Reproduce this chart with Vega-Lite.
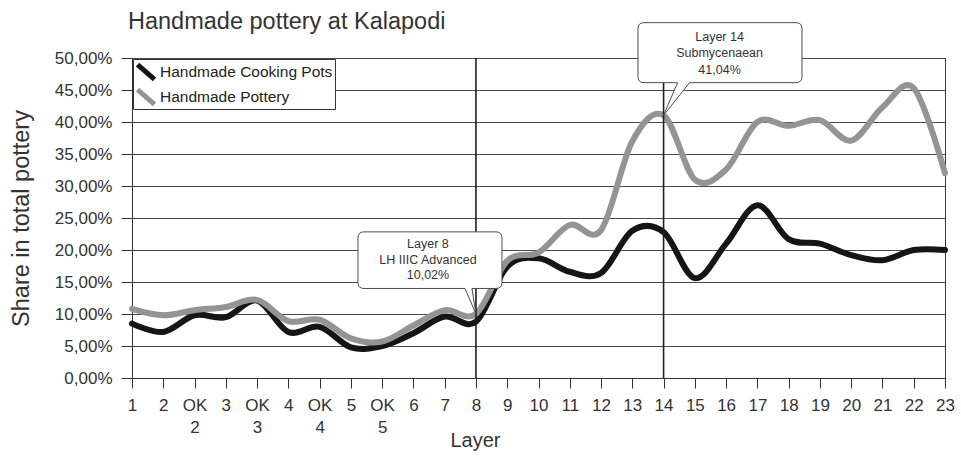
{
  "$schema": "https://vega.github.io/schema/vega-lite/v6.json",
  "width": 813,
  "height": 320,
  "autosize": {"type": "none"},
  "padding": {"left": 132, "top": 58, "right": 16, "bottom": 79},
  "background": "white",
  "config": {
    "font": "Liberation Sans",
    "view": {"stroke": "#3a3a3a", "strokeWidth": 1}
  },
  "title": {
    "text": "Handmade pottery at Kalapodi",
    "anchor": "start",
    "frame": "group",
    "fontSize": 23.5,
    "fontWeight": "normal",
    "color": "#333333",
    "dx": -4,
    "dy": 27,
    "offset": 14
  },
  "datasets": {
    "pottery": [
      {"layer": "1", "Handmade Cooking Pots": 8.5, "Handmade Pottery": 10.8},
      {"layer": "2", "Handmade Cooking Pots": 7.2, "Handmade Pottery": 9.8},
      {"layer": "OK 2", "Handmade Cooking Pots": 9.8, "Handmade Pottery": 10.6},
      {"layer": "3", "Handmade Cooking Pots": 9.5, "Handmade Pottery": 11.1},
      {"layer": "OK 3", "Handmade Cooking Pots": 12.1, "Handmade Pottery": 12.2},
      {"layer": "4", "Handmade Cooking Pots": 7.2, "Handmade Pottery": 8.9},
      {"layer": "OK 4", "Handmade Cooking Pots": 8.0, "Handmade Pottery": 9.1},
      {"layer": "5", "Handmade Cooking Pots": 4.8, "Handmade Pottery": 6.2},
      {"layer": "OK 5", "Handmade Cooking Pots": 5.0, "Handmade Pottery": 5.7},
      {"layer": "6", "Handmade Cooking Pots": 7.0, "Handmade Pottery": 8.2},
      {"layer": "7", "Handmade Cooking Pots": 9.6, "Handmade Pottery": 10.6},
      {"layer": "8", "Handmade Cooking Pots": 8.8, "Handmade Pottery": 10.02},
      {"layer": "9", "Handmade Cooking Pots": 17.4, "Handmade Pottery": 18.3},
      {"layer": "10", "Handmade Cooking Pots": 18.7, "Handmade Pottery": 19.6},
      {"layer": "11", "Handmade Cooking Pots": 16.6, "Handmade Pottery": 23.9},
      {"layer": "12", "Handmade Cooking Pots": 16.4, "Handmade Pottery": 23.1},
      {"layer": "13", "Handmade Cooking Pots": 23.0, "Handmade Pottery": 37.0},
      {"layer": "14", "Handmade Cooking Pots": 22.8, "Handmade Pottery": 41.04},
      {"layer": "15", "Handmade Cooking Pots": 15.6, "Handmade Pottery": 31.0},
      {"layer": "16", "Handmade Cooking Pots": 21.0, "Handmade Pottery": 32.6},
      {"layer": "17", "Handmade Cooking Pots": 27.0, "Handmade Pottery": 40.0},
      {"layer": "18", "Handmade Cooking Pots": 21.7, "Handmade Pottery": 39.4},
      {"layer": "19", "Handmade Cooking Pots": 21.0, "Handmade Pottery": 40.3},
      {"layer": "20", "Handmade Cooking Pots": 19.2, "Handmade Pottery": 37.1},
      {"layer": "21", "Handmade Cooking Pots": 18.4, "Handmade Pottery": 42.3},
      {"layer": "22", "Handmade Cooking Pots": 20.0, "Handmade Pottery": 45.3},
      {"layer": "23", "Handmade Cooking Pots": 20.0, "Handmade Pottery": 32.0}
    ],
    "markers": [
      {"layer": "8"},
      {"layer": "14"}
    ],
    "note8": [
      {"layer": "8", "share": 10.02, "note": "Layer 8\nLH IIIC Advanced\n10,02%"}
    ],
    "note14": [
      {"layer": "14", "share": 41.04, "note": "Layer 14\nSubmycenaean\n41,04%"}
    ]
  },
  "encoding": {
    "x": {
      "field": "layer",
      "type": "ordinal",
      "sort": null,
      "scale": {
        "type": "point",
        "padding": 0,
        "domain": ["1", "2", "OK 2", "3", "OK 3", "4", "OK 4", "5", "OK 5", "6", "7", "8", "9", "10", "11", "12", "13", "14", "15", "16", "17", "18", "19", "20", "21", "22", "23"]
      },
      "axis": {
        "title": "Layer",
        "titleFontSize": 20,
        "titleFontWeight": "normal",
        "titleColor": "#333333",
        "titleX": 343,
        "titleY": 62,
        "titleAlign": "center",
        "titleBaseline": "middle",
        "labelExpr": "split(datum.label, ' ')",
        "labelFontSize": 17,
        "labelColor": "#333333",
        "labelAngle": 0,
        "labelBaseline": "middle",
        "labelPadding": 17,
        "labelLineHeight": 22,
        "labelOverlap": false,
        "tickSize": 10,
        "tickColor": "#333333",
        "domainColor": "#333333",
        "grid": false
      }
    },
    "y": {
      "field": "share",
      "type": "quantitative",
      "scale": {"domain": [0, 50], "nice": false},
      "axis": {
        "values": [0, 5, 10, 15, 20, 25, 30, 35, 40, 45, 50],
        "labelOverlap": false,
        "labelExpr": "replace(format(datum.value, '.2f'), '.', ',') + '%'",
        "labelFontSize": 17,
        "labelColor": "#333333",
        "labelPadding": 9,
        "tickSize": 11,
        "tickColor": "#333333",
        "domainColor": "#333333",
        "grid": true,
        "gridColor": "#4a4a4a",
        "gridWidth": 1,
        "gridOpacity": 1,
        "title": "Share in total pottery",
        "titleFontSize": 23.5,
        "titleFontWeight": "normal",
        "titleColor": "#333333",
        "titleX": -111,
        "titleY": 160,
        "titleAngle": 270,
        "titleAlign": "center",
        "titleBaseline": "middle"
      }
    }
  },
  "layer": [
    {
      "data": {"name": "pottery"},
      "transform": [
        {"fold": ["Handmade Cooking Pots", "Handmade Pottery"], "as": ["series", "share"]}
      ],
      "mark": {"type": "line", "interpolate": "cardinal", "strokeWidth": 6, "strokeCap": "round", "strokeJoin": "round"},
      "encoding": {
        "color": {
          "field": "series",
          "type": "nominal",
          "scale": {"domain": ["Handmade Cooking Pots", "Handmade Pottery"], "range": ["#151515", "#949494"]},
          "legend": {
            "orient": "none",
            "legendX": 1,
            "legendY": 1,
            "title": null,
            "fillColor": "white",
            "strokeColor": "#333333",
            "padding": 2,
            "cornerRadius": 0,
            "symbolType": "M-1,-0.88L1,0.88",
            "symbolSize": 289,
            "symbolStrokeWidth": 5,
            "labelFontSize": 15.5,
            "labelColor": "#222222",
            "labelOffset": 3,
            "rowPadding": 4,
            "labelLimit": 300,
            "encode": {
              "symbols": {"update": {"strokeJoin": {"value": "round"}, "strokeCap": {"value": "butt"}}}
            }
          }
        }
      }
    },
    {
      "data": {"name": "markers"},
      "mark": {"type": "rule", "color": "#1e1e1e", "strokeWidth": 1.6},
      "encoding": {
        "y": {"value": 0},
        "y2": {"value": "height"}
      }
    },
    {
      "data": {"name": "note8"},
      "mark": {
        "type": "point",
        "shape": "M-4,-25.4L0,0L-11,-25.4L-112,-25.4Q-118,-25.4,-118,-31.4L-118,-76Q-118,-82,-112,-82L20,-82Q26,-82,26,-76L26,-31.4Q26,-25.4,20,-25.4Z",
        "size": 4,
        "filled": true,
        "fill": "white",
        "stroke": "#4d4d4d",
        "strokeWidth": 1,
        "opacity": 1
      }
    },
    {
      "data": {"name": "note14"},
      "mark": {
        "type": "point",
        "shape": "M14,-32.7L0,0L26,-32.7L132.4,-32.7Q138.4,-32.7,138.4,-38.7L138.4,-86.7Q138.4,-92.7,132.4,-92.7L-19.6,-92.7Q-25.6,-92.7,-25.6,-86.7L-25.6,-38.7Q-25.6,-32.7,-19.6,-32.7Z",
        "size": 4,
        "filled": true,
        "fill": "white",
        "stroke": "#4d4d4d",
        "strokeWidth": 1,
        "opacity": 1
      }
    },
    {
      "data": {"name": "note8"},
      "mark": {
        "type": "text",
        "lineBreak": "\n",
        "lineHeight": 15.5,
        "fontSize": 12.5,
        "color": "#333333",
        "align": "center",
        "baseline": "middle",
        "dx": -48,
        "dy": -69.5
      },
      "encoding": {
        "text": {"field": "note", "type": "nominal"}
      }
    },
    {
      "data": {"name": "note14"},
      "mark": {
        "type": "text",
        "lineBreak": "\n",
        "lineHeight": 16.5,
        "fontSize": 12.5,
        "color": "#333333",
        "align": "center",
        "baseline": "middle",
        "dx": 56,
        "dy": -78.5
      },
      "encoding": {
        "text": {"field": "note", "type": "nominal"}
      }
    }
  ]
}
